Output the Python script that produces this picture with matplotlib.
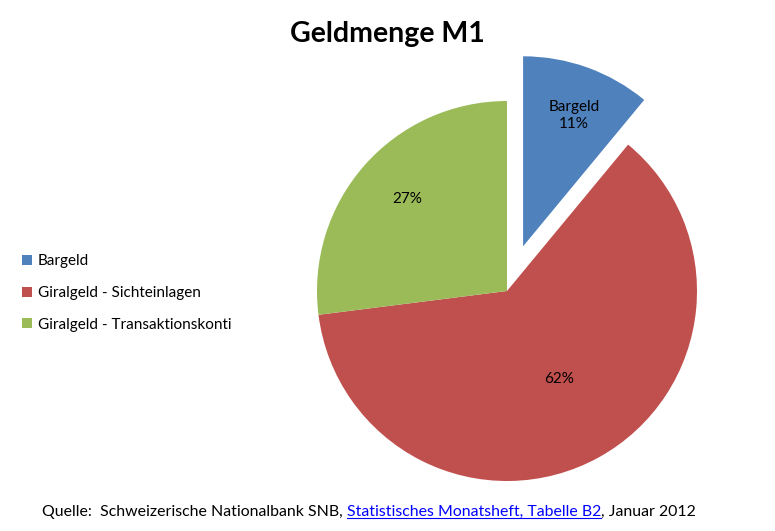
import numpy as np
import matplotlib
matplotlib.use("Agg")
import matplotlib.pyplot as plt
from matplotlib.lines import Line2D

plt.rcParams['font.family'] = ['Lato', 'DejaVu Sans']

# Daten
kategorien = ["Bargeld", "Giralgeld - Sichteinlagen", "Giralgeld - Transaktionskonti"]
anteile = [11, 62, 27]
farben = ["#4F81BD", "#C0504D", "#9BBB59"]
titel = "Geldmenge M1"
quelle_teile = ["Quelle:  Schweizerische Nationalbank SNB, ",
                "Statistisches Monatsheft, Tabelle B2",
                ", Januar 2012"]

W, H = 775, 531
fig = plt.figure(figsize=(W / 100, H / 100), dpi=100)
ax = fig.add_axes([0, 0, 1, 1])

# Kreisdiagramm in Pixelkoordinaten (y nach oben)
cx, cy, r = 507, H - 291, 190
wedges, texts, autotexts = ax.pie(
    anteile, colors=farben, startangle=90, counterclock=False,
    explode=[0.25 * r, 0, 0], center=(cx, cy), radius=r,
    autopct="%d%%", pctdistance=0.7, textprops=dict(fontsize=11, color="black"))
ax.set_xlim(0, W)
ax.set_ylim(0, H)
ax.set_aspect("equal")
ax.axis("off")

# Beschriftungen verschieben (Excel-Stil)
dist = [0.73, 0.53, 0.73]
for w, t, d, name in zip(wedges, autotexts, dist, kategorien):
    mid = np.deg2rad((w.theta1 + w.theta2) / 2)
    x0, y0 = w.center
    t.set_position((x0 + r * d * np.cos(mid) + 4, y0 + r * d * np.sin(mid)))
    t.set_ha("center")
    t.set_va("center")
autotexts[0].set_text(kategorien[0] + "\n" + autotexts[0].get_text())
autotexts[0].set_linespacing(1.3)

# Legende
leg = fig.legend(wedges, kategorien, loc="center left",
                 bbox_to_anchor=(8 / W, 1 - 293 / H), frameon=False,
                 fontsize=11, handlelength=0.65, handleheight=0.65,
                 handletextpad=0.4, labelspacing=1.15)

# Titel
fig.text(0.5, 1 - 34 / H, titel, ha="center", va="center",
         fontsize=20.5, fontweight="bold")

# Quelle mit Link
renderer = fig.canvas.get_renderer()
x = 42 / W
y = 1 - 516 / H
for i, teil in enumerate(quelle_teile):
    col = "#0000FF" if i == 1 else "black"
    t = fig.text(x, y, teil, ha="left", va="baseline", fontsize=11.4, color=col)
    bb = t.get_window_extent(renderer)
    if i == 1:
        fig.add_artist(Line2D([bb.x0 / W, bb.x1 / W], [y - 2 / H, y - 2 / H],
                              color=col, lw=0.8))
    x = bb.x1 / W

fig.savefig("out.png", dpi=100)
